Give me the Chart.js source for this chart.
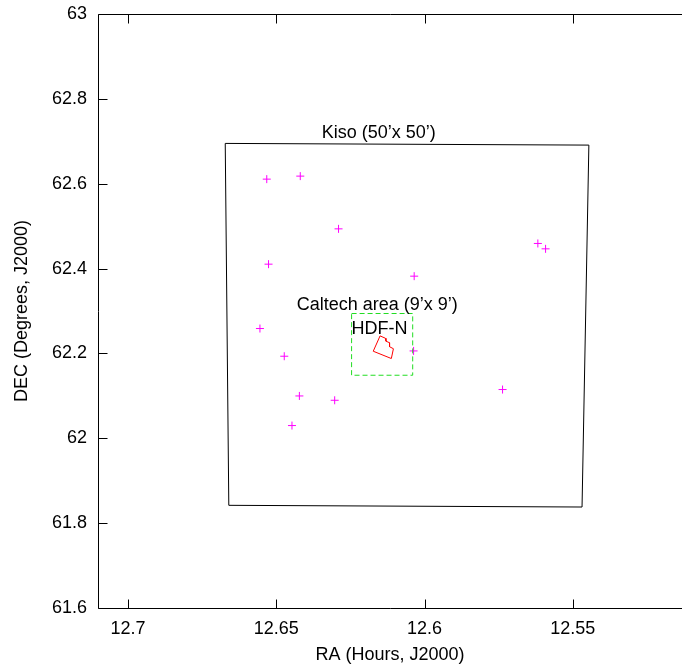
<!DOCTYPE html>
<html>
<head>
<meta charset="utf-8">
<script src="https://cdn.jsdelivr.net/npm/chart.js@4/dist/chart.umd.min.js"></script>
<style>
  body { margin: 0; background: #fff; }
  #wrap { width: 682px; height: 667px; }
</style>
</head>
<body>
<div id="wrap"><canvas id="sky"></canvas></div>
<script>
// Kiso field (closed outline)
const kisoRa = [12.6672, 12.5446, 12.5469, 12.6660, 12.6672];
const kisoDec = [62.695, 62.691, 61.838, 61.842, 62.695];

// Caltech area (dashed box)
const caltechRa = [12.6246, 12.6040, 12.6040, 12.6246, 12.6246];
const caltechDec = [62.2941, 62.2941, 62.1486, 62.1486, 62.2941];

// HDF-N outline
const hdfRa = [12.6150, 12.6132, 12.6130, 12.6118, 12.6118, 12.6105, 12.6112, 12.6173, 12.6150];
const hdfDec = [62.2413, 62.2358, 62.2288, 62.2252, 62.2158, 62.2111, 62.1880, 62.2052, 62.2413];

// stars (magenta crosses)
const starRa = [12.6532, 12.6419, 12.6290, 12.6526, 12.6035, 12.5618, 12.5592,
                12.6555, 12.6473, 12.6037, 12.6422, 12.6303, 12.6447, 12.5737];
const starDec = [62.6108, 62.6179, 62.4936, 62.4104, 62.3821, 62.4592, 62.4465,
                 62.2587, 62.1934, 62.2059, 62.0998, 62.0896, 62.0300, 62.1149];

// axis ticks
const xTicks = [12.7, 12.65, 12.6, 12.55];
const xTickLabels = ['12.7', '12.65', '12.6', '12.55'];
const yTicks = [61.6, 61.8, 62, 62.2, 62.4, 62.6, 62.8, 63];
const yTickLabels = ['61.6', '61.8', '62', '62.2', '62.4', '62.6', '62.8', '63'];

// annotations: text, ra (left edge), dec (baseline)
const noteText = ['Kiso (50\u2019x 50\u2019)', 'Caltech area (9\u2019x 9\u2019)', 'HDF-N'];
const noteRa = [12.6347, 12.6431, 12.6246];
const noteDec = [62.7075, 62.3035, 62.2453];

const FONT = '"Liberation Sans", Arial, Helvetica, sans-serif';

function toPoints(xs, ys) {
  return xs.map((v, i) => ({ x: v, y: ys[i] }));
}

// frame, inward ticks and text labels
const framePlugin = {
  id: 'frame',
  afterDraw(chart) {
    const ctx = chart.ctx;
    const a = chart.chartArea;
    const xs = chart.scales.x;
    const ys = chart.scales.y;
    const len = 9;
    const L = Math.round(a.left) + 0.5, R = a.right + 5;
    const T = Math.round(a.top) + 0.5, B = Math.round(a.bottom) + 0.5;
    ctx.save();
    ctx.strokeStyle = '#000';
    ctx.lineWidth = 1;
    ctx.setLineDash([]);
    ctx.beginPath();
    ctx.moveTo(R, T); ctx.lineTo(L, T); ctx.lineTo(L, B); ctx.lineTo(R, B);
    ctx.stroke();

    ctx.beginPath();
    for (const v of xTicks) {
      const px = Math.round(xs.getPixelForValue(v)) + 0.5;
      ctx.moveTo(px, B); ctx.lineTo(px, B - len);
      ctx.moveTo(px, T); ctx.lineTo(px, T + len);
    }
    for (const v of yTicks) {
      const py = Math.round(ys.getPixelForValue(v)) + 0.5;
      ctx.moveTo(L, py); ctx.lineTo(L + len, py);
    }
    ctx.stroke();

    ctx.fillStyle = '#000';
    ctx.font = '18px ' + FONT;
    ctx.textAlign = 'left';
    ctx.textBaseline = 'alphabetic';
    noteText.forEach((t, i) => {
      ctx.fillText(t, xs.getPixelForValue(noteRa[i]), ys.getPixelForValue(noteDec[i]));
    });
    ctx.restore();
  }
};

new Chart(document.getElementById('sky'), {
  type: 'scatter',
  data: {
    datasets: [
      {
        label: 'Kiso',
        data: toPoints(kisoRa, kisoDec),
        showLine: true,
        borderColor: '#000',
        borderWidth: 1,
        pointRadius: 0,
        tension: 0
      },
      {
        label: 'Caltech',
        data: toPoints(caltechRa, caltechDec),
        showLine: true,
        borderColor: '#22dd22',
        borderWidth: 1,
        borderDash: [5, 3],
        pointRadius: 0,
        tension: 0
      },
      {
        label: 'HDF-N',
        data: toPoints(hdfRa, hdfDec),
        showLine: true,
        borderColor: '#ff0000',
        borderWidth: 1,
        pointRadius: 0,
        tension: 0
      },
      {
        label: 'stars',
        data: toPoints(starRa, starDec),
        showLine: false,
        pointStyle: 'cross',
        pointRadius: 4,
        borderColor: '#ff00ff',
        borderWidth: 1
      }
    ]
  },
  options: {
    responsive: true,
    maintainAspectRatio: false,
    animation: false,
    devicePixelRatio: 1,
    layout: { padding: { top: 14, right: 0, left: 0, bottom: 0 }, autoPadding: false },
    plugins: {
      legend: { display: false },
      tooltip: { enabled: false }
    },
    scales: {
      x: {
        type: 'linear',
        reverse: true,
        min: 12.5132,
        max: 12.7101,
        afterBuildTicks: axis => { axis.ticks = xTicks.map(v => ({ value: v })); },
        afterFit: axis => {
          axis.height = 59;
          axis.paddingLeft = 0;
          axis.paddingRight = 0;
        },
        ticks: {
          color: '#000',
          padding: 10,
          maxRotation: 0,
          font: { family: FONT, size: 18 },
          callback: v => xTickLabels[xTicks.indexOf(v)]
        },
        grid: { display: false, tickLength: 0 },
        border: { display: false },
        title: {
          display: true,
          text: 'RA (Hours, J2000)',
          color: '#000',
          font: { family: FONT, size: 18 },
          padding: { top: 0, bottom: 1 }
        }
      },
      y: {
        type: 'linear',
        min: 61.6,
        max: 63,
        afterBuildTicks: axis => { axis.ticks = yTicks.map(v => ({ value: v })); },
        afterFit: axis => {
          axis.width = 98;
          axis.paddingTop = 0;
          axis.paddingBottom = 0;
        },
        ticks: {
          color: '#000',
          padding: 11,
          font: { family: FONT, size: 18 },
          callback: v => yTickLabels[yTicks.indexOf(v)]
        },
        grid: { display: false, tickLength: 0 },
        border: { display: false },
        title: {
          display: true,
          text: 'DEC (Degrees, J2000)',
          color: '#000',
          font: { family: FONT, size: 18 },
          padding: { top: 11, bottom: 0 }
        }
      }
    }
  },
  plugins: [framePlugin]
});
</script>
</body>
</html>
